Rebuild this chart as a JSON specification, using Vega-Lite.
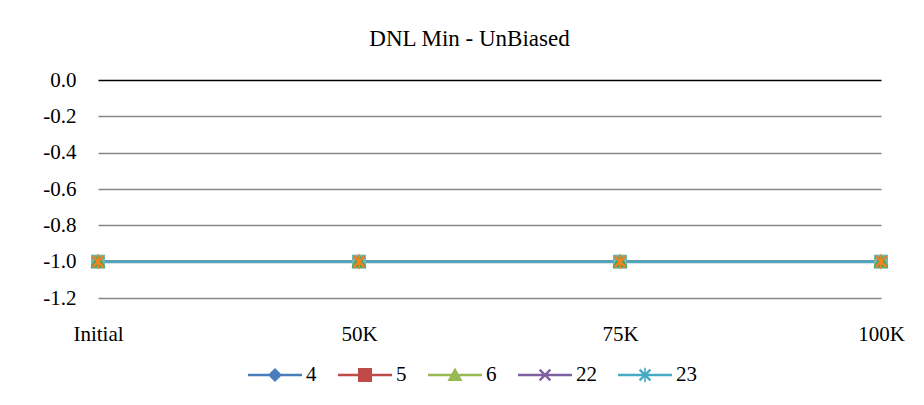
{
  "$schema": "https://vega.github.io/schema/vega-lite/v6.json",
  "width": 783,
  "height": 218,
  "autosize": "none",
  "padding": {"left": 98, "top": 80, "right": 43, "bottom": 107},
  "background": "white",
  "config": {"view": {"stroke": null}, "font": "Liberation Serif", "title": {"font": "Liberation Serif", "fontWeight": "normal"}, "style": {"group-title": {"font": "Liberation Serif"}}},
  "title": {"text": "DNL Min - UnBiased", "fontSize": 23, "font": "Liberation Serif", "fontWeight": "normal", "color": "black", "frame": "group", "anchor": "middle", "dx": -20, "offset": 0, "baseline": "alphabetic"},
  "data": {"values": [
    {"series": "4", "stage": "Initial", "value": -1.0},
    {"series": "4", "stage": "50K", "value": -1.0},
    {"series": "4", "stage": "75K", "value": -1.0},
    {"series": "4", "stage": "100K", "value": -1.0},
    {"series": "5", "stage": "Initial", "value": -1.0},
    {"series": "5", "stage": "50K", "value": -1.0},
    {"series": "5", "stage": "75K", "value": -1.0},
    {"series": "5", "stage": "100K", "value": -1.0},
    {"series": "6", "stage": "Initial", "value": -1.0},
    {"series": "6", "stage": "50K", "value": -1.0},
    {"series": "6", "stage": "75K", "value": -1.0},
    {"series": "6", "stage": "100K", "value": -1.0},
    {"series": "22", "stage": "Initial", "value": -1.0},
    {"series": "22", "stage": "50K", "value": -1.0},
    {"series": "22", "stage": "75K", "value": -1.0},
    {"series": "22", "stage": "100K", "value": -1.0},
    {"series": "23", "stage": "Initial", "value": -1.0},
    {"series": "23", "stage": "50K", "value": -1.0},
    {"series": "23", "stage": "75K", "value": -1.0},
    {"series": "23", "stage": "100K", "value": -1.0}
  ]},
  "encoding": {
    "x": {"field": "stage", "type": "ordinal", "sort": ["Initial", "50K", "75K", "100K"], "scale": {"type": "point", "padding": 0},
      "axis": {"title": null, "labelAngle": 0, "domain": false, "ticks": false, "grid": false, "labelPadding": 25, "labelFont": "Liberation Serif", "labelFontSize": 21, "labelColor": "black", "labelFlush": false, "labelOverlap": false}},
    "y": {"field": "value", "type": "quantitative", "scale": {"domain": [-1.2, 0], "nice": false, "zero": false},
      "axis": {"title": null, "values": [0, -0.2, -0.4, -0.6, -0.8, -1.0, -1.2], "labelExpr": "replace(format(datum.value, '.1f'), '\u2212', '-')", "domain": false, "ticks": false, "labelPadding": 22, "labelFont": "Liberation Serif", "labelFontSize": 21, "labelColor": "black", "gridColor": {"condition": {"test": "datum.value === 0", "value": "black"}, "value": "#868686"}, "gridWidth": 1.3, "gridOpacity": 1}}
  },
  "layer": [
    {
      "mark": {"type": "line", "strokeWidth": 2.5},
      "encoding": {
        "color": {"field": "series", "type": "nominal", "scale": {"domain": ["4", "5", "6", "22", "23"], "range": ["#4A7EBB", "#BE4B48", "#98B954", "#7D60A0", "#46AAC5"]}, "legend": null}
      }
    },
    {
      "mark": {"type": "point", "filled": true, "opacity": 1, "size": 2916},
      "encoding": {
        "color": {"field": "series", "type": "nominal", "legend": null},
        "shape": {"field": "series", "type": "nominal", "legend": null, "scale": {"domain": ["4", "5", "6", "22", "23"], "range": [
          "M0,-0.26L0.26,0L0,0.26L-0.26,0Z",
          "M-0.26,-0.26H0.26V0.26H-0.26Z",
          "M0,-0.28L0.28,0.22L-0.28,0.22Z",
          "M-0.17,-0.23L0.23,0.17L0.17,0.23L-0.23,-0.17ZM-0.23,0.17L0.17,-0.23L0.23,-0.17L-0.17,0.23Z",
          "M-0.17,-0.23L0.23,0.17L0.17,0.23L-0.23,-0.17ZM-0.23,0.17L0.17,-0.23L0.23,-0.17L-0.17,0.23ZM-0.03,-0.27H0.03V0.27H-0.03Z"
        ]}}
      }
    },
    {
      "mark": {"type": "point", "filled": true, "opacity": 0, "size": 2916},
      "encoding": {
        "color": {"field": "series", "type": "nominal", "scale": {"domain": ["4", "5", "6", "22", "23"], "range": ["#4A7EBB", "#BE4B48", "#98B954", "#7D60A0", "#46AAC5"]}, "legend": {"orient": "none", "legendX": 150, "legendY": 268, "direction": "horizontal", "columns": 5, "title": null, "symbolSize": 2916, "symbolOpacity": 1, "symbolStrokeWidth": 0, "labelFont": "Liberation Serif", "labelFontSize": 21, "labelColor": "black", "labelOffset": 4, "columnPadding": 21}},
        "shape": {"field": "series", "type": "nominal", "legend": {"orient": "none", "legendX": 150, "legendY": 268, "direction": "horizontal", "columns": 5, "title": null, "symbolSize": 2916, "symbolOpacity": 1, "symbolStrokeWidth": 0, "labelFont": "Liberation Serif", "labelFontSize": 21, "labelColor": "black", "labelOffset": 4, "columnPadding": 21}, "scale": {"domain": ["4", "5", "6", "22", "23"], "range": [
          "M-1,-0.045H1V0.045H-1ZM0,-0.26L0.26,0L0,0.26L-0.26,0Z",
          "M-1,-0.045H1V0.045H-1ZM-0.26,-0.26H0.26V0.26H-0.26Z",
          "M-1,-0.045H1V0.045H-1ZM0,-0.28L0.28,0.22L-0.28,0.22Z",
          "M-1,-0.045H1V0.045H-1ZM-0.17,-0.23L0.23,0.17L0.17,0.23L-0.23,-0.17ZM-0.23,0.17L0.17,-0.23L0.23,-0.17L-0.17,0.23Z",
          "M-1,-0.045H1V0.045H-1ZM-0.17,-0.23L0.23,0.17L0.17,0.23L-0.23,-0.17ZM-0.23,0.17L0.17,-0.23L0.23,-0.17L-0.17,0.23ZM-0.03,-0.27H0.03V0.27H-0.03Z"
        ]}}
      }
    }
  ],
  "resolve": {"scale": {"shape": "independent", "color": "independent"}}
}
